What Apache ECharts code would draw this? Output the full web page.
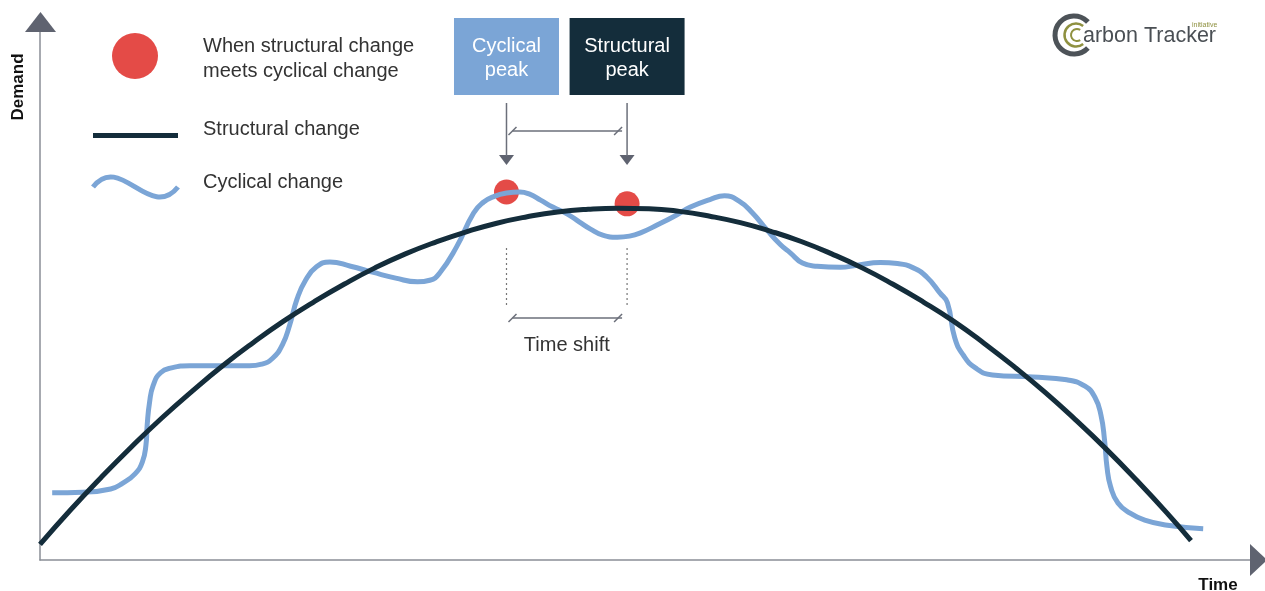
<!DOCTYPE html>
<html>
<head>
<meta charset="utf-8">
<script src="https://cdn.jsdelivr.net/npm/echarts@6/dist/echarts.min.js"></script>
<style>
html, body { margin: 0; padding: 0; background: #fff; }
#chart { width: 1265px; height: 591px; }
</style>
</head>
<body>
<div id="chart"></div>
<script>
// structural change (time, demand), arbitrary 0-100 units
var structuralTime = [0, 2.5, 5, 7.5, 10, 12.5, 15, 17.5, 20, 22.5, 25, 27.5, 30, 32.5, 35, 37.5, 40, 42.5, 45, 47.5,
  50, 52.5, 55, 57.5, 60, 62.5, 65, 67.5, 70, 72.5, 75, 77.5, 80, 82.5, 85, 87.5, 90, 92.5, 94.5];
var structuralDemand = [2.9, 9.3, 15.3, 21.0, 26.4, 31.4, 36.1, 40.4, 44.4, 48.0, 51.3, 54.3, 56.9, 59.1, 61.0, 62.6, 63.8, 64.7, 65.2, 65.4,
  65.3, 64.8, 63.9, 62.7, 61.1, 59.2, 56.9, 54.3, 51.3, 48.0, 44.4, 40.3, 35.9, 31.2, 26.1, 20.7, 14.9, 8.8, 3.6];

// cyclical change
var cyclicalTime = [1.0, 3.5, 5.8, 6.8, 7.8, 8.4, 8.7, 8.8, 9.0, 9.3, 9.9, 10.8, 12.3, 17.2, 18.2, 19.1, 19.9, 20.5, 21.1, 21.8,
  22.7, 23.8, 25.5, 27.3, 29.2, 31.0, 32.0, 32.8, 34.2, 35.6, 36.4, 37.2, 38.3, 39.4, 40.2, 41.1, 42.1, 43.3, 44.3, 45.2,
  46.2, 47.4, 48.4, 49.3, 50.7, 52.0, 53.4, 55.0, 56.2, 57.4, 58.5, 59.7, 60.8, 61.6, 62.6, 63.8, 65.7, 67.1, 69.0,
  70.4, 71.7, 72.8, 73.9, 74.5, 75.1, 75.8, 76.8, 78.2, 81.5, 84.3, 85.8, 86.6, 87.1, 87.4, 87.6, 87.9, 88.5, 89.5, 90.7,
  92.4, 95.5];
var cyclicalDemand = [12.5, 12.6, 13.2, 14.3, 16.0, 18.2, 21.4, 25.1, 29.4, 32.5, 34.8, 35.7, 36.1, 36.1, 36.4, 37.5, 40.0, 43.7, 48.5, 52.0,
  54.5, 55.4, 54.6, 53.5, 52.4, 51.7, 52.0, 53.3, 58.2, 64.5, 66.5, 67.5, 68.2, 68.4, 68.0, 66.9, 65.6, 64.3, 62.8, 61.5,
  60.4, 60.0, 60.2, 60.8, 62.3, 63.8, 65.6, 67.0, 67.7, 66.7, 64.5, 61.3, 58.6, 57.1, 55.2, 54.6, 54.4, 54.8, 55.3,
  55.1, 54.3, 52.6, 49.6, 47.8, 41.3, 38.1, 35.7, 34.4, 34.0, 33.5, 32.3, 30.3, 27.0, 22.3, 17.3, 13.6, 10.6, 8.7, 7.4,
  6.5, 5.8];

// where structural meets cyclical
var peakTime = [38.3, 48.2];
var peakDemand = [68.4, 66.2];
var peakLabels = [['Cyclical', 'peak'], ['Structural', 'peak']];

var BLUE = '#7ba5d6';
var DARK = '#142d3b';
var RED = '#e44b47';
var GREY = '#6b6f7a';
var FONT = '"Liberation Sans", Arial, sans-serif';

function zip(xs, ys) {
  var out = [];
  for (var i = 0; i < xs.length; i++) out.push([xs[i], ys[i]]);
  return out;
}

var chart = echarts.init(document.getElementById('chart'));

var axisCommon = {
  type: 'value', min: 0, max: 100,
  axisLine: { show: true, lineStyle: { color: '#8a8e96', width: 1.5 } },
  axisTick: { show: false }, axisLabel: { show: false }, splitLine: { show: false }
};

chart.setOption({
  animation: false,
  grid: { left: 40, right: 7, top: 22, bottom: 31 },
  xAxis: axisCommon,
  yAxis: axisCommon,
  series: [
    {
      name: 'Cyclical change', type: 'line', smooth: 0.5, showSymbol: false,
      data: zip(cyclicalTime, cyclicalDemand),
      lineStyle: { color: BLUE, width: 5 }
    },
    {
      name: 'Structural change', type: 'line', smooth: 0.5, showSymbol: false,
      data: zip(structuralTime, structuralDemand),
      lineStyle: { color: DARK, width: 5 }
    },
    {
      name: 'Peaks', type: 'scatter', symbolSize: 25,
      data: zip(peakTime, peakDemand),
      itemStyle: { color: RED, opacity: 1 }
    }
  ]
});

// annotations
var g = [];
function txt(x, y, s, o) {
  o = o || {};
  g.push({
    type: 'text', x: x, y: y, rotation: o.rot || 0, z: 10,
    style: {
      text: s, font: (o.weight || 'normal') + ' ' + (o.size || 20) + 'px ' + FONT,
      fill: o.color || '#333', textAlign: o.align || 'left', textVerticalAlign: 'middle'
    }
  });
}
function line(x1, y1, x2, y2, o) {
  o = o || {};
  g.push({
    type: 'line', z: 10, shape: { x1: x1, y1: y1, x2: x2, y2: y2 },
    style: { stroke: o.color || GREY, lineWidth: o.width || 1.5, lineDash: o.dash || null }
  });
}

// axis arrow heads
var yEnd = chart.convertToPixel({ gridIndex: 0 }, [0, 100]);
var xEnd = chart.convertToPixel({ gridIndex: 0 }, [100, 0]);
g.push({ type: 'polygon', z: 10, shape: { points: [[yEnd[0] - 15, yEnd[1] + 10], [yEnd[0] + 16, yEnd[1] + 10], [yEnd[0] + 0.5, yEnd[1] - 10]] }, style: { fill: '#5f6370' } });
g.push({ type: 'polygon', z: 10, shape: { points: [[xEnd[0] - 8, xEnd[1] - 16], [xEnd[0] - 8, xEnd[1] + 16], [xEnd[0] + 9, xEnd[1]]] }, style: { fill: '#5f6370' } });

// axis titles
txt(18, 87, 'Demand', { rot: Math.PI / 2, weight: 'bold', size: 17, align: 'center', color: '#111' });
txt(1218, 585, 'Time', { weight: 'bold', size: 17, align: 'center', color: '#111' });

// legend
g.push({ type: 'circle', shape: { cx: 135, cy: 56, r: 23 }, style: { fill: RED } });
txt(203, 46, 'When structural change');
txt(203, 71, 'meets cyclical change');
g.push({ type: 'rect', shape: { x: 93, y: 133, width: 85, height: 5 }, style: { fill: DARK } });
txt(203, 129, 'Structural change');
g.push({
  type: 'bezierCurve',
  shape: { x1: 93, y1: 187, cpx1: 120, cpy1: 152, cpx2: 150, cpy2: 222, x2: 178, y2: 187 },
  style: { stroke: BLUE, lineWidth: 5, fill: null }
});
txt(203, 182, 'Cyclical change');

// peak boxes, arrows and time shift brackets
var px = peakTime.map(function (t, i) {
  return chart.convertToPixel({ gridIndex: 0 }, [t, peakDemand[i]])[0];
});
var boxColors = [BLUE, DARK];
var boxW = [105, 115];
px.forEach(function (x, i) {
  g.push({ type: 'rect', shape: { x: x - boxW[i] / 2, y: 18, width: boxW[i], height: 77 }, style: { fill: boxColors[i] } });
  txt(x, 46, peakLabels[i][0], { color: '#fff', align: 'center' });
  txt(x, 70, peakLabels[i][1], { color: '#fff', align: 'center' });
  line(x, 103, x, 156);
  g.push({ type: 'polygon', shape: { points: [[x - 7.5, 155], [x + 7.5, 155], [x, 165]] }, style: { fill: '#5f6370' } });
  line(x, 248, x, 307, { color: '#777', width: 1.2, dash: [2, 3] });
});
function bracket(y) {
  line(px[0] + 6, y, px[1] - 5, y);
  line(px[0] + 2, y + 4, px[0] + 10, y - 4);
  line(px[1] - 13, y + 4, px[1] - 5, y - 4);
}
bracket(131);
bracket(318);
txt((px[0] + px[1]) / 2, 345, 'Time shift', { align: 'center' });

// logo
g.push({ type: 'arc', shape: { cx: 1074, cy: 35, r: 19, startAngle: 0.75, endAngle: -0.75, clockwise: true }, style: { stroke: '#4d5358', lineWidth: 5, fill: null } });
g.push({ type: 'arc', shape: { cx: 1076, cy: 35, r: 11.5, startAngle: 0.9, endAngle: -0.9, clockwise: true }, style: { stroke: '#8f9140', lineWidth: 2.5, fill: null } });
g.push({ type: 'arc', shape: { cx: 1077, cy: 35, r: 6, startAngle: 1.0, endAngle: -1.0, clockwise: true }, style: { stroke: '#8f9140', lineWidth: 2, fill: null } });
txt(1083, 36, 'arbon Tracker', { size: 21.5, color: '#4a4f54' });
txt(1192, 25, 'initiative', { size: 7, color: '#8f9140' });

chart.setOption({ graphic: { elements: g } });
</script>
</body>
</html>
